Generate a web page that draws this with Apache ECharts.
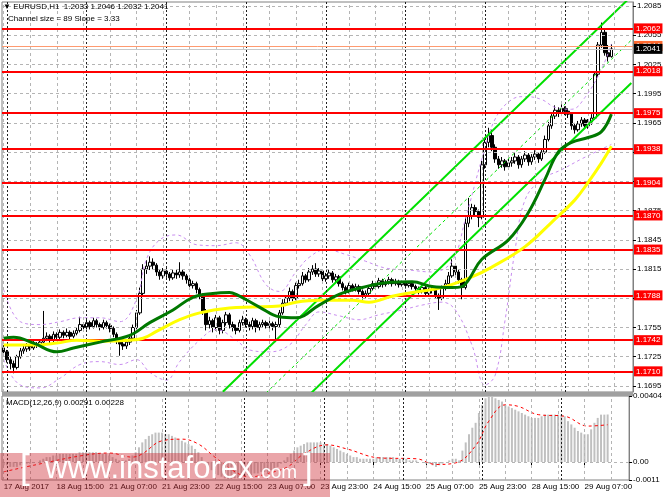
<!DOCTYPE html>
<html>
<head>
<meta charset="utf-8">
<script src="https://cdn.jsdelivr.net/npm/echarts/dist/echarts.min.js"></script>
<style>html,body{margin:0;padding:0;background:#fff}#chart{width:665px;height:499px}</style>
</head>
<body>
<div id="chart"></div>
<script>
// prices are kept in pips above BASE
var BASE = 1.17, PIP = 0.0001;
var firstOpen = 34;
var closePips = [
  30,22,18,14,25,31,33,36,34,38, 37,40,44,46,42,48,45,50,47,50,
  46,49,52,58,55,60,56,62,58,55, 60,57,54,48,42,38,36,40,44,55,
  70,90,115,118,122,119,112,108,113,110, 106,111,109,112,108,104,98,100,94,88,
  72,58,62,55,65,52,60,68,58,55, 52,60,63,58,56,62,55,58,60,57,
  59,56,58,70,80,85,92,85,98,100, 108,104,112,115,110,113,105,108,111,104,
  107,100,96,92,98,95,97,92,88,90, 95,100,97,103,99,101,104,100,102,99,
  101,98,100,97,95,92,96,90,93,94, 88,85,95,100,108,118,112,104,96,162,
  170,178,174,168,222,245,252,240,228,222, 226,220,224,226,230,222,228,232,225,230,
  233,228,235,248,262,272,278,275,280,277, 274,262,258,264,268,262,266,270,315,345,
  358,337,333,341
];
var highPips = [
  37,32,25,21,27,34,36,39,38,41, 40,43,72,50,48,51,50,53,52,54,
  52,52,55,66,60,63,62,65,64,60, 63,62,59,56,50,44,41,43,47,58,
  73,96,120,124,128,126,121,114,116,116, 112,114,114,122,114,110,106,103,102,96,
  90,74,66,64,68,67,63,71,70,61, 58,63,67,65,61,65,64,61,63,62,
  62,61,61,73,84,88,96,94,101,104, 112,110,116,119,121,116,115,111,114,113,
  110,109,102,98,101,100,100,99,94,93, 98,103,102,106,105,104,107,106,105,104,
  103,103,102,102,99,97,99,98,96,97, 96,90,98,104,112,125,120,114,106,168,
  188,182,181,176,226,250,260,258,243,231, 230,228,228,230,234,232,231,236,234,233,
  237,235,239,252,266,276,283,281,284,282, 280,276,265,267,271,270,269,274,318,348,
  368,362,345,346
];
var lowPips = [
  26,19,12,8,12,23,28,30,31,32, 34,35,38,41,38,40,42,43,44,45,
  42,44,47,50,52,53,53,54,55,52, 53,54,50,45,38,26,32,33,37,42,
  52,68,88,110,114,114,108,104,105,106, 103,104,105,106,104,100,95,95,90,84,
  68,52,54,50,52,48,49,57,54,51, 48,50,57,55,52,53,50,52,55,54,
  54,52,40,55,68,77,82,82,83,95, 98,101,102,109,107,107,100,102,105,101,
  101,97,93,89,90,92,92,89,84,85, 88,93,94,95,96,97,99,97,98,96,
  97,95,96,94,91,89,90,87,88,90, 85,73,83,93,98,106,109,100,84,94,
  158,166,170,158,166,218,240,236,224,218, 219,216,217,220,223,218,219,225,221,222,
  227,224,226,233,246,259,269,271,272,273, 270,258,254,256,261,259,259,263,268,312,
  342,334,328,332
];
// indicator lines: [bar, pips]
var greenMA = [[0,44],[3,45],[9,39],[16,30],[21,34],[29,40],[38,47],[44,60],[51,73],[57,86],[63,90],[68,91],[70,89],[77,76],[83,66],[88,65],[95,78],[101,89],[108,96],[115,101],[123,102],[129,97],[135,96],[138,97],[140,104],[144,125],[152,145],[158,173],[163,207],[167,235],[171,245],[176,250],[180,256],[183,274]];
var yellowMA = [[0,37],[9,37],[16,39],[22,42],[29,41],[38,42],[42,44],[46,51],[53,63],[59,70],[68,75],[75,76],[83,77],[88,81],[95,83],[105,83],[110,81],[117,87],[125,92],[132,96],[141,107],[147,117],[157,138],[165,163],[172,186],[176,204],[180,224],[183,241]];
var bandUpper = [[0,94],[5,61],[11,58],[17,61],[23,65],[29,65],[35,61],[40,84],[43,125],[47,145],[52,150],[58,140],[64,139],[70,142],[74,130],[79,99],[83,92],[88,112],[92,127],[97,135],[103,130],[109,123],[115,116],[122,114],[129,112],[135,123],[139,166],[144,228],[148,269],[153,289],[157,292],[162,289],[166,281],[171,279],[175,291],[180,320],[183,346]];
var bandLower = [[0,22],[5,-4],[11,-7],[17,3],[23,17],[29,20],[35,17],[40,22],[44,9],[49,1],[53,20],[59,42],[64,53],[70,42],[74,32],[80,30],[86,37],[91,58],[95,71],[101,67],[107,63],[113,68],[120,73],[126,78],[132,81],[136,73],[141,37],[145,-4],[148,6],[151,63],[154,135],[157,186],[162,207],[168,217],[174,228],[180,238],[183,243]];
var channelUpper = [[66,-11],[189,395]];
var channelMiddle = [[66,-55],[189,350]];
var channelLower = [[66,-100],[189,306]];

var levels = [1.2062, 1.2018, 1.1975, 1.1938, 1.1904, 1.1870, 1.1835, 1.1788, 1.1742, 1.1710];
var askPrice = 1.2044, bidPrice = 1.2041;
var priceTicks = [1.1695, 1.1725, 1.1755, 1.1785, 1.1815, 1.1845, 1.1875, 1.1905, 1.1935, 1.1965, 1.1995, 1.2025, 1.2055, 1.2085];
var xTickLabels = ['17 Aug 2017','18 Aug 15:00','21 Aug 07:00','21 Aug 23:00','22 Aug 15:00','23 Aug 07:00','23 Aug 23:00','24 Aug 15:00','25 Aug 07:00','25 Aug 23:00','28 Aug 15:00','29 Aug 07:00'];
var daySeparators = [1, 25, 49, 73, 97, 121, 145, 169];

// MACD in units of 0.0001
var macdHist = [
  -2,-2,-3,-3,-3,-2,-2,-1,-1,0,0,
  1,2,3,3,4,4,5,5,5,5,5,5,6,6,
  6,6,6,6,5,5,5,4,3,2,1,1,1,2,
  4,6,9,12,14,16,17,18,18,18,17,17,
  16,15,14,13,12,11,10,8,6,3,
  -1,-3,-5,-7,-8,-9,-10,-11,-11,-10,-10,-9,
  -9,-8,-8,-7,-7,-6,-6,-6,-5,-5,
  -3,-1,1,3,5,7,9,10,11,12,12,12,12,
  12,11,11,10,9,8,7,6,5,4,3,3,2,2,2,
  2,2,3,3,3,3,3,3,2,2,2,2,1,1,1,0,0,-1,-1,-2,-3,
  -2,-1,0,1,2,2,1,
  7,12,17,21,24,30,35,39,40.4,
  40,39,38,37,35,34,33,32,31,30,29,28,27,27,27,
  28,29,29,29,29,29,29,28,
  25,23,21,19,18,17,17,
  20,24,27,29,29,29.1
];
var macdSignal = [[0,-6],[9,-2],[24,4],[32,5.5],[39,3],[42,5],[48,13],[54,14],[59,11],[64,3],[71,-7],[75,-9],[80,-7],[86,-3],[91,5],[98,10.5],[104,8],[114,2.5],[125,2],[131,-1.5],[137,-0.5],[143,10],[147,25],[152,35],[156,34],[162,29],[170,28],[177,22],[183,22.8]];
var macdTicks = [-0.0011, 0, 0.00404];
var macdTickLabels = ['-0.0011', '0.00', '0.00404'];

var FONT = 'Liberation Sans';
var N = 190;
var cats = [];
for (var i = 0; i < N; i++) cats.push(String(i));

function px(p) { return +(BASE + p * PIP).toFixed(5); }
function pts(arr) { return arr.map(function (d) { return [d[0], px(d[1])]; }); }

var candles = closePips.map(function (c, i) {
  var o = i === 0 ? firstOpen : closePips[i - 1];
  return [px(o), px(c), px(lowPips[i]), px(highPips[i])];
});

var gridDash = {color: '#b4b4b4', type: [3, 3], width: 1};
var sepDash = {color: '#202020', type: [2, 2], width: 1};
var vGrid = [];
for (var k = 0; k < N; k += 8) vGrid.push({xAxis: k, lineStyle: gridDash});
var vSep = daySeparators.map(function (d) { return {xAxis: d, lineStyle: sepDash}; });

function labelOn(i) { return i % 16 === 0 && i / 16 < xTickLabels.length; }

var chart = echarts.init(document.getElementById('chart'));
chart.setOption({
  animation: false,
  backgroundColor: '#ffffff',
  grid: [
    {left: 2, right: 32, top: 2, height: 390, show: true, borderColor: '#808080', borderWidth: 1},
    {left: 2, right: 32, top: 396, height: 84, show: true, borderColor: '#808080', borderWidth: 1}
  ],
  xAxis: [
    {type: 'category', gridIndex: 0, data: cats, boundaryGap: true,
     axisLine: {show: false}, axisTick: {show: false}, axisLabel: {show: false}, splitLine: {show: false}},
    {type: 'category', gridIndex: 1, data: cats, boundaryGap: true,
     axisLine: {show: false},
     axisTick: {show: true, interval: labelOn, alignWithLabel: true, length: 3, lineStyle: {color: '#000'}},
     axisLabel: {show: true, interval: labelOn, align: 'left', margin: 3, fontSize: 8, color: '#000', fontFamily: FONT,
       formatter: function (v, i) { return xTickLabels[i / 16]; }},
     splitLine: {show: false}}
  ],
  yAxis: [
    {type: 'value', gridIndex: 0, position: 'right', min: 1.16888, max: 1.20891,
     axisLine: {show: true, lineStyle: {color: '#808080'}},
     axisTick: {show: true, length: 3, customValues: priceTicks, lineStyle: {color: '#000'}},
     axisLabel: {show: true, customValues: priceTicks, margin: 4, fontSize: 8, color: '#000', fontFamily: FONT,
       formatter: function (v) { return v.toFixed(4); }},
     splitLine: {show: false}},
    {type: 'value', gridIndex: 1, position: 'right', min: -0.0011, max: 0.00404,
     axisLine: {show: true, lineStyle: {color: '#808080'}},
     axisTick: {show: true, length: 3, customValues: macdTicks, lineStyle: {color: '#000'}},
     axisLabel: {show: true, customValues: macdTicks, margin: 4, fontSize: 8, color: '#000', fontFamily: FONT,
       formatter: function (v) {
         for (var j = 0; j < macdTicks.length; j++) if (Math.abs(macdTicks[j] - v) < 1e-7) return macdTickLabels[j];
         return '';
       }},
     splitLine: {show: false}}
  ],
  graphic: [
    {type: 'rect', left: 2, top: 392, shape: {width: 631, height: 4}, style: {fill: '#a0a0a0'}, z: 50},
    {type: 'text', left: 3, top: 3, style: {text: '\u25BC EURUSD,H1  1.2033 1.2046 1.2032 1.2041', fontSize: 8, fontFamily: FONT, fill: '#000'}, z: 50},
    {type: 'text', left: 8, top: 15, style: {text: 'Channel size = 89 Slope = 3.33', fontSize: 8, fontFamily: FONT, fill: '#000'}, z: 50},
    {type: 'text', left: 6, top: 399, style: {text: 'MACD(12,26,9) 0.00291 0.00228', fontSize: 8, fontFamily: FONT, fill: '#000'}, z: 50},
    {type: 'rect', left: 0, top: 453, shape: {width: 330, height: 44}, style: {fill: 'rgba(205,40,50,0.42)'}, z: 60},
    {type: 'text', z: 61, style: {x: 20, y: 469, text: '[', fontSize: 35, fontFamily: FONT, fill: '#fff', verticalAlign: 'middle'}},
    {type: 'text', z: 61, style: {x: 45, y: 469, text: 'www.instaforex', fontSize: 31, fontFamily: FONT, fill: '#fff', verticalAlign: 'middle'}},
    {type: 'text', z: 61, style: {x: 256, y: 473, text: '.com', fontSize: 19, fontFamily: FONT, fill: '#fff', verticalAlign: 'middle'}},
    {type: 'text', z: 61, style: {x: 303, y: 469, text: ']', fontSize: 35, fontFamily: FONT, fill: '#fff', verticalAlign: 'middle'}}
  ],
  series: [
    {type: 'line', name: 'gridMain', xAxisIndex: 0, yAxisIndex: 0, data: [], z: 1, silent: true,
     markLine: {symbol: ['none', 'none'], silent: true, precision: 6, label: {show: false},
       data: priceTicks.map(function (v) { return {yAxis: v, lineStyle: gridDash}; }).concat(vGrid, vSep)}},
    {type: 'line', name: 'gridMacd', xAxisIndex: 1, yAxisIndex: 1, data: [], z: 1, silent: true,
     markLine: {symbol: ['none', 'none'], silent: true, precision: 6, label: {show: false},
       data: [{yAxis: 0, lineStyle: gridDash}].concat(vGrid, vSep)}},
    {type: 'line', name: 'levels', xAxisIndex: 0, yAxisIndex: 0, data: [], z: 2, silent: true,
     markLine: {symbol: ['none', 'none'], silent: true, precision: 6,
       lineStyle: {color: '#ff0000', width: 2, type: 'solid'},
       label: {show: true, position: 'end', distance: 1, color: '#fff', backgroundColor: '#ff0000',
         padding: [1, 2, 1, 2], fontSize: 8, fontFamily: FONT},
       data: levels.map(function (v) { return {yAxis: v, label: {formatter: v.toFixed(4)}}; })}},
    {type: 'line', name: 'ask', xAxisIndex: 0, yAxisIndex: 0, data: [], z: 2, silent: true,
     markLine: {symbol: ['none', 'none'], silent: true, precision: 6,
       lineStyle: {color: '#ff9a70', width: 1, type: 'solid'},
       label: {show: true, position: 'end', distance: 1, color: '#fff', backgroundColor: '#ff6a30',
         padding: [1, 2, 1, 2], fontSize: 8, fontFamily: FONT, formatter: askPrice.toFixed(4)},
       data: [{yAxis: askPrice}]}},
    {type: 'candlestick', name: 'EURUSD', xAxisIndex: 0, yAxisIndex: 0, data: candles, z: 3,
     barWidth: 3,
     itemStyle: {color: '#ffffff', color0: '#000000', borderColor: '#000000', borderColor0: '#000000', borderWidth: 1}},
    {type: 'line', name: 'bid', xAxisIndex: 0, yAxisIndex: 0, data: [], z: 6, silent: true,
     markLine: {symbol: ['none', 'none'], silent: true, precision: 6,
       lineStyle: {color: '#c8c8c8', width: 1, type: 'solid'},
       label: {show: true, position: 'end', distance: 1, color: '#fff', backgroundColor: '#000000',
         padding: [1, 2, 1, 2], fontSize: 8, fontFamily: FONT, formatter: bidPrice.toFixed(4)},
       data: [{yAxis: bidPrice}]}},
    {type: 'line', name: 'bandUpper', xAxisIndex: 0, yAxisIndex: 0, data: pts(bandUpper), smooth: 0.4,
     showSymbol: false, z: 4, lineStyle: {color: '#c98ef0', width: 1, type: [3, 3]}},
    {type: 'line', name: 'bandLower', xAxisIndex: 0, yAxisIndex: 0, data: pts(bandLower), smooth: 0.4,
     showSymbol: false, z: 4, lineStyle: {color: '#c98ef0', width: 1, type: [3, 3]}},
    {type: 'line', name: 'chUp', xAxisIndex: 0, yAxisIndex: 0, data: pts(channelUpper), showSymbol: false, z: 4,
     lineStyle: {color: '#00e000', width: 2}},
    {type: 'line', name: 'chMid', xAxisIndex: 0, yAxisIndex: 0, data: pts(channelMiddle), showSymbol: false, z: 4,
     lineStyle: {color: '#00e000', width: 1, type: [3, 3]}},
    {type: 'line', name: 'chLow', xAxisIndex: 0, yAxisIndex: 0, data: pts(channelLower), showSymbol: false, z: 4,
     lineStyle: {color: '#00e000', width: 2}},
    {type: 'line', name: 'yellowMA', xAxisIndex: 0, yAxisIndex: 0, data: pts(yellowMA), smooth: 0.4, showSymbol: false, z: 5,
     lineStyle: {color: '#ffff00', width: 3}},
    {type: 'line', name: 'greenMA', xAxisIndex: 0, yAxisIndex: 0, data: pts(greenMA), smooth: 0.4, showSymbol: false, z: 5,
     lineStyle: {color: '#007800', width: 3}},
    {type: 'bar', name: 'MACD', xAxisIndex: 1, yAxisIndex: 1, barWidth: 2, z: 3,
     data: macdHist.map(function (v) { return v * PIP; }),
     itemStyle: {color: '#c0c0c0'}},
    {type: 'line', name: 'Signal', xAxisIndex: 1, yAxisIndex: 1, smooth: 0.4, showSymbol: false, z: 4,
     data: macdSignal.map(function (d) { return [d[0], d[1] * PIP]; }),
     lineStyle: {color: '#ff0000', width: 1, type: [3, 3]}}
  ]
});
</script>
</body>
</html>
